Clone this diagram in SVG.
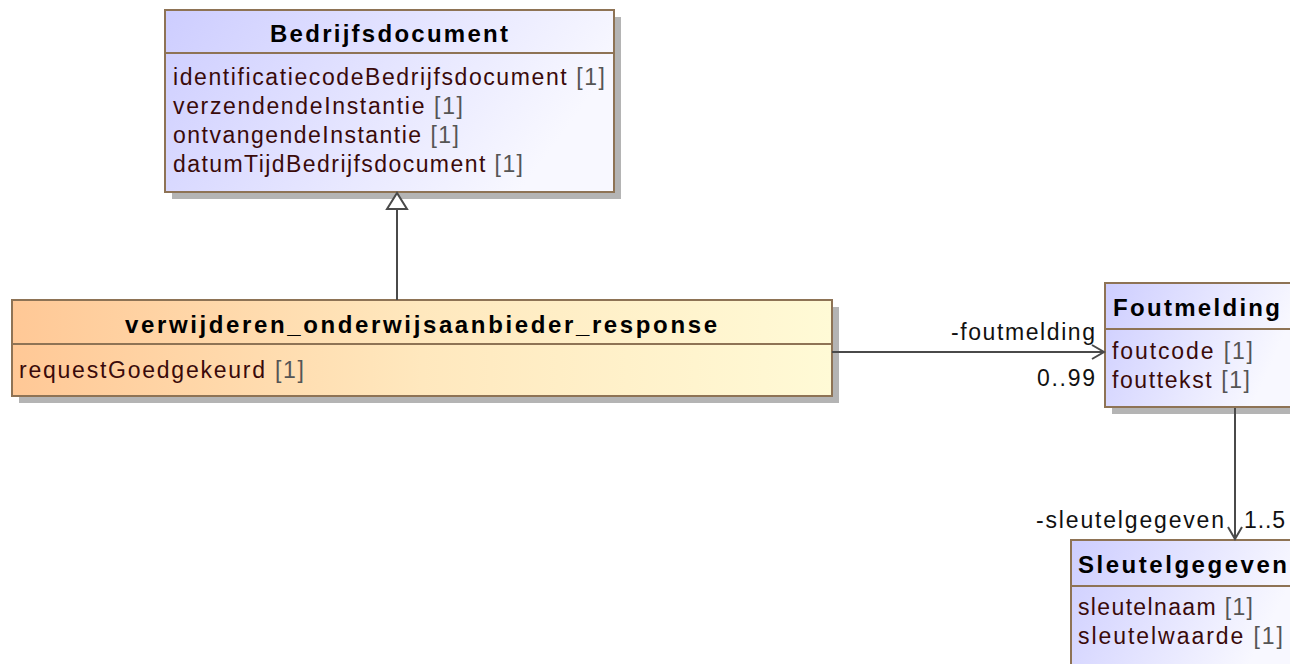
<svg xmlns="http://www.w3.org/2000/svg" width="1290" height="664" viewBox="0 0 1290 664">
<defs>
<linearGradient id="gBlue" x1="0" y1="0" x2="1" y2="0.3">
<stop offset="0" stop-color="#CDCDFF"/>
<stop offset="1" stop-color="#F8F8FF"/>
</linearGradient>
<linearGradient id="gOrange" x1="0" y1="0" x2="1" y2="0">
<stop offset="0" stop-color="#FFC896"/>
<stop offset="0.5" stop-color="#FFE8BE"/>
<stop offset="1" stop-color="#FFFAD6"/>
</linearGradient>
<marker id="open" markerWidth="16" markerHeight="16" refX="13" refY="8" orient="auto" markerUnits="userSpaceOnUse">
<path d="M1,1 L13,8 L1,15" fill="none" stroke="#4A4A4A" stroke-width="2"/>
</marker>
</defs>
<style>
.shadow{fill:#B4B4B4}
.box{stroke:#8E7355;stroke-width:2}
.div{stroke:#8E7355;stroke-width:2}
.title{font-family:"Liberation Sans",Arial,sans-serif;font-weight:bold;font-size:24px;fill:#000}
.attr{font-family:"Liberation Sans",Arial,sans-serif;font-size:23px;fill:#3A0A0A}
.mult{fill:#555555}
.lbl{font-family:"Liberation Sans",Arial,sans-serif;font-size:23px;fill:#111}
.conn{stroke:#4A4A4A;stroke-width:2;fill:none}
</style>
<rect width="1290" height="664" fill="#FFFFFF"/>

<g id="Bedrijfsdocument">
<rect class="shadow" x="172" y="17" width="449" height="182"/>
<rect class="box" x="165" y="10" width="449" height="182" fill="url(#gBlue)"/>
<line class="div" x1="165" y1="53" x2="614" y2="53"/>
<text class="title" x="389" y="42" text-anchor="middle" textLength="238" lengthAdjust="spacing">Bedrijfsdocument</text>
<text class="attr" x="173" y="85" textLength="432" lengthAdjust="spacing">identificatiecodeBedrijfsdocument <tspan class="mult">[1]</tspan></text>
<text class="attr" x="173" y="114" textLength="290" lengthAdjust="spacing">verzendendeInstantie <tspan class="mult">[1]</tspan></text>
<text class="attr" x="173" y="143" textLength="286" lengthAdjust="spacing">ontvangendeInstantie <tspan class="mult">[1]</tspan></text>
<text class="attr" x="173" y="172" textLength="350" lengthAdjust="spacing">datumTijdBedrijfsdocument <tspan class="mult">[1]</tspan></text>
</g>

<g id="verwijderen_onderwijsaanbieder_response">
<rect class="shadow" x="19" y="307" width="820" height="96"/>
<rect class="box" x="12" y="300" width="820" height="96" fill="url(#gOrange)"/>
<line class="div" x1="12" y1="344" x2="832" y2="344"/>
<text class="title" x="421" y="333" text-anchor="middle" textLength="592" lengthAdjust="spacing">verwijderen_onderwijsaanbieder_response</text>
<text class="attr" x="19" y="378" textLength="285" lengthAdjust="spacing">requestGoedgekeurd <tspan class="mult">[1]</tspan></text>
</g>

<g id="Foutmelding">
<rect class="shadow" x="1112" y="290" width="186" height="124"/>
<rect class="box" x="1105" y="283" width="186" height="124" fill="url(#gBlue)"/>
<line class="div" x1="1105" y1="329" x2="1291" y2="329"/>
<text class="title" x="1113" y="316" textLength="167" lengthAdjust="spacing">Foutmelding</text>
<text class="attr" x="1112" y="359" textLength="141" lengthAdjust="spacing">foutcode <tspan class="mult">[1]</tspan></text>
<text class="attr" x="1112" y="388" textLength="138" lengthAdjust="spacing">fouttekst <tspan class="mult">[1]</tspan></text>
</g>

<g id="Sleutelgegeven">
<rect class="shadow" x="1078" y="547" width="222" height="130"/>
<rect class="box" x="1071" y="540" width="222" height="130" fill="url(#gBlue)"/>
<line class="div" x1="1071" y1="586" x2="1293" y2="586"/>
<text class="title" x="1078" y="573" textLength="209" lengthAdjust="spacing">Sleutelgegeven</text>
<text class="attr" x="1078" y="615" textLength="175" lengthAdjust="spacing">sleutelnaam <tspan class="mult">[1]</tspan></text>
<text class="attr" x="1078" y="644" textLength="205" lengthAdjust="spacing">sleutelwaarde <tspan class="mult">[1]</tspan></text>
</g>

<g id="connectors">
<line class="conn" x1="397" y1="300" x2="397" y2="209"/>
<polygon points="397,193 387,209 407,209" fill="#FFFFFF" stroke="#4A4A4A" stroke-width="2"/>
<line class="conn" x1="832" y1="352" x2="1104" y2="352" marker-end="url(#open)"/>
<text class="lbl" x="1095" y="340" text-anchor="end" textLength="144" lengthAdjust="spacing">-foutmelding</text>
<text class="lbl" x="1095" y="386" text-anchor="end" textLength="58" lengthAdjust="spacing">0..99</text>
<line class="conn" x1="1235" y1="408" x2="1235" y2="539" marker-end="url(#open)"/>
<text class="lbl" x="1036" y="528" textLength="188" lengthAdjust="spacing">-sleutelgegeven</text>
<text class="lbl" x="1244" y="528" textLength="41" lengthAdjust="spacing">1..5</text>
</g>
</svg>
